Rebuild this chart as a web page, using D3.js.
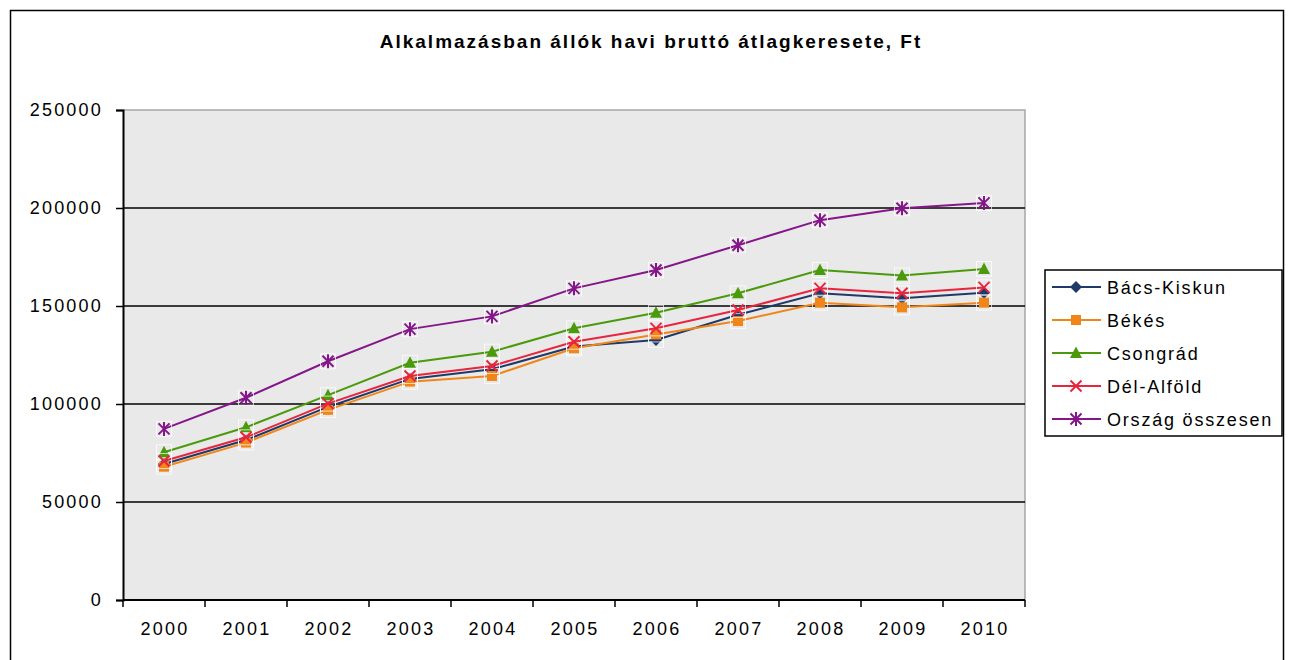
<!DOCTYPE html>
<html>
<head>
<meta charset="utf-8">
<script src="https://cdn.jsdelivr.net/npm/d3@7"></script>
<style>
  html, body { margin: 0; padding: 0; background: #fff; }
  svg { display: block; font-family: "Liberation Sans", Arial, sans-serif; }
</style>
</head>
<body>
<svg id="chart" width="1292" height="660"></svg>
<script>
const title = "Alkalmazásban állók havi bruttó átlagkeresete, Ft";
const years = ["2000","2001","2002","2003","2004","2005","2006","2007","2008","2009","2010"];
const yTicks = [0, 50000, 100000, 150000, 200000, 250000];

const seriesNames = ["Bács-Kiskun", "Békés", "Csongrád", "Dél-Alföld", "Ország összesen"];
const bacsKiskun = [69400, 81600, 98500, 112800, 117700, 129300, 132700, 145500, 156500, 153900, 156800];
const bekes      = [68000, 80300, 97000, 111400, 114300, 128400, 135500, 142300, 151700, 149300, 151700];
const csongrad   = [75400, 88100, 104500, 121000, 126700, 138600, 146600, 156500, 168400, 165500, 168900];
const delAlfold  = [70900, 83000, 100200, 114300, 119400, 131800, 138600, 148000, 159000, 156500, 159500];
const orszag     = [87300, 103200, 121800, 138200, 144700, 159000, 168400, 181000, 193800, 199900, 202600];

const seriesValues = [bacsKiskun, bekes, csongrad, delAlfold, orszag];
const colors = ["#1F3A68", "#F0861A", "#4A9A0C", "#E8253E", "#85168A"];
const markers = ["diamond", "square", "triangle", "x", "star"];

const FONT = "'Liberation Sans', Arial, sans-serif";
const svg = d3.select("#chart");
const plot = {left: 123, right: 1025, top: 110, bottom: 600};

// outer border
svg.append("rect").attr("x", 10.5).attr("y", 10.5).attr("width", 1273).attr("height", 660)
  .attr("fill", "#fff").attr("stroke", "#000").attr("stroke-width", 1.5);

// title
svg.append("text").attr("x", 651).attr("y", 48).attr("text-anchor", "middle")
  .attr("font-family", FONT)
  .attr("font-size", 19).attr("font-weight", "bold").attr("letter-spacing", 2)
  .attr("fill", "#000").text(title);

const x = d3.scaleBand().domain(years).range([plot.left, plot.right]).paddingInner(0).paddingOuter(0);
const y = d3.scaleLinear().domain([0, 250000]).range([plot.bottom, plot.top]);

// plot background
svg.append("rect").attr("x", plot.left).attr("y", plot.top)
  .attr("width", plot.right - plot.left).attr("height", plot.bottom - plot.top)
  .attr("fill", "#E9E9E9");

// top & right border (grey)
svg.append("path")
  .attr("d", `M${plot.left},${plot.top}H${plot.right}V${plot.bottom}`)
  .attr("fill", "none").attr("stroke", "#A6A6A6").attr("stroke-width", 1.5);

// gridlines
svg.append("g").selectAll("line").data(yTicks.filter(d => d > 0 && d < 250000)).join("line")
  .attr("x1", plot.left).attr("x2", plot.right)
  .attr("y1", d => y(d)).attr("y2", d => y(d))
  .attr("stroke", "#000").attr("stroke-width", 1.5);

// y axis
const yAxis = d3.axisLeft(y).tickValues(yTicks).tickSize(7).tickPadding(13).tickFormat(d => String(d));
const gy = svg.append("g").attr("transform", `translate(${plot.left},0)`).call(yAxis);
gy.select(".domain").attr("stroke", "#000").attr("stroke-width", 2);
gy.selectAll(".tick line").attr("stroke", "#000").attr("stroke-width", 1.5);
gy.selectAll(".tick text").attr("font-size", 18).attr("letter-spacing", 2.2).attr("fill", "#000")
  .attr("font-family", FONT);

// x axis: ticks between categories
const xAxisG = svg.append("g").attr("transform", `translate(0,${plot.bottom})`);
xAxisG.append("line").attr("x1", plot.left).attr("x2", plot.right).attr("y1", 0).attr("y2", 0)
  .attr("stroke", "#000").attr("stroke-width", 2);
const boundaries = years.map(d => x(d)).concat([x(years[years.length - 1]) + x.bandwidth()]);
xAxisG.selectAll("line.tk").data(boundaries).join("line").attr("class", "tk")
  .attr("x1", d => d).attr("x2", d => d).attr("y1", 0).attr("y2", 7)
  .attr("stroke", "#000").attr("stroke-width", 1.5);
xAxisG.selectAll("text").data(years).join("text")
  .attr("x", d => x(d) + x.bandwidth() / 2 + 1).attr("y", 35)
  .attr("text-anchor", "middle").attr("font-size", 18).attr("letter-spacing", 2.2)
  .attr("font-family", FONT)
  .attr("fill", "#000").text(d => d);

const cx = d => x(d) + x.bandwidth() / 2;

function drawMarker(g, type, color, px, py) {
  g.append("rect").attr("x", px - 7.5).attr("y", py - 7.5).attr("width", 15).attr("height", 15)
    .attr("fill", "none").attr("stroke", "#fff").attr("stroke-width", 1).attr("opacity", 0.7);
  if (type === "diamond") {
    g.append("path").attr("d", `M${px},${py - 6}L${px + 6},${py}L${px},${py + 6}L${px - 6},${py}Z`).attr("fill", color);
  } else if (type === "square") {
    g.append("rect").attr("x", px - 5).attr("y", py - 5).attr("width", 10).attr("height", 10).attr("fill", color);
  } else if (type === "triangle") {
    g.append("path").attr("d", `M${px},${py - 6.5}L${px + 6},${py + 5}L${px - 6},${py + 5}Z`).attr("fill", color);
  } else if (type === "x") {
    g.append("path").attr("d", `M${px - 5.5},${py - 5.5}L${px + 5.5},${py + 5.5}M${px - 5.5},${py + 5.5}L${px + 5.5},${py - 5.5}`)
      .attr("stroke", color).attr("stroke-width", 2).attr("fill", "none");
  } else if (type === "star") {
    g.append("path").attr("d", `M${px - 5.5},${py - 5.5}L${px + 5.5},${py + 5.5}M${px - 5.5},${py + 5.5}L${px + 5.5},${py - 5.5}M${px},${py - 7}L${px},${py + 7}`)
      .attr("stroke", color).attr("stroke-width", 2).attr("fill", "none");
  }
}

const line = d3.line().x((d, i) => cx(years[i])).y(d => y(d));

seriesValues.forEach((vals, si) => {
  const g = svg.append("g");
  g.append("path").datum(vals).attr("d", line)
    .attr("fill", "none").attr("stroke", colors[si]).attr("stroke-width", 2);
  vals.forEach((v, i) => drawMarker(g, markers[si], colors[si], cx(years[i]), y(v)));
});

// legend
const lg = svg.append("g");
lg.append("rect").attr("x", 1045).attr("y", 270).attr("width", 237).attr("height", 166)
  .attr("fill", "#fff").attr("stroke", "#000").attr("stroke-width", 1.5);
seriesNames.forEach((name, i) => {
  const ly = 287 + i * 33;
  lg.append("line").attr("x1", 1052).attr("x2", 1101).attr("y1", ly).attr("y2", ly)
    .attr("stroke", colors[i]).attr("stroke-width", 2);
  const mg = lg.append("g");
  if (markers[i] === "diamond") {
    mg.append("path").attr("d", `M1076,${ly - 6}L1082,${ly}L1076,${ly + 6}L1070,${ly}Z`).attr("fill", colors[i]);
  } else if (markers[i] === "square") {
    mg.append("rect").attr("x", 1071).attr("y", ly - 5).attr("width", 10).attr("height", 10).attr("fill", colors[i]);
  } else if (markers[i] === "triangle") {
    mg.append("path").attr("d", `M1076,${ly - 6.5}L1082,${ly + 5}L1070,${ly + 5}Z`).attr("fill", colors[i]);
  } else if (markers[i] === "x") {
    mg.append("path").attr("d", `M1070.5,${ly - 5.5}L1081.5,${ly + 5.5}M1070.5,${ly + 5.5}L1081.5,${ly - 5.5}`)
      .attr("stroke", colors[i]).attr("stroke-width", 2);
  } else {
    mg.append("path").attr("d", `M1070.5,${ly - 5.5}L1081.5,${ly + 5.5}M1070.5,${ly + 5.5}L1081.5,${ly - 5.5}M1076,${ly - 7}L1076,${ly + 7}`)
      .attr("stroke", colors[i]).attr("stroke-width", 2);
  }
  lg.append("text").attr("x", 1107).attr("y", ly + 6.5).attr("font-size", 18).attr("letter-spacing", 1.8)
    .attr("font-family", FONT)
    .attr("fill", "#000").text(name);
});
</script>
</body>
</html>
